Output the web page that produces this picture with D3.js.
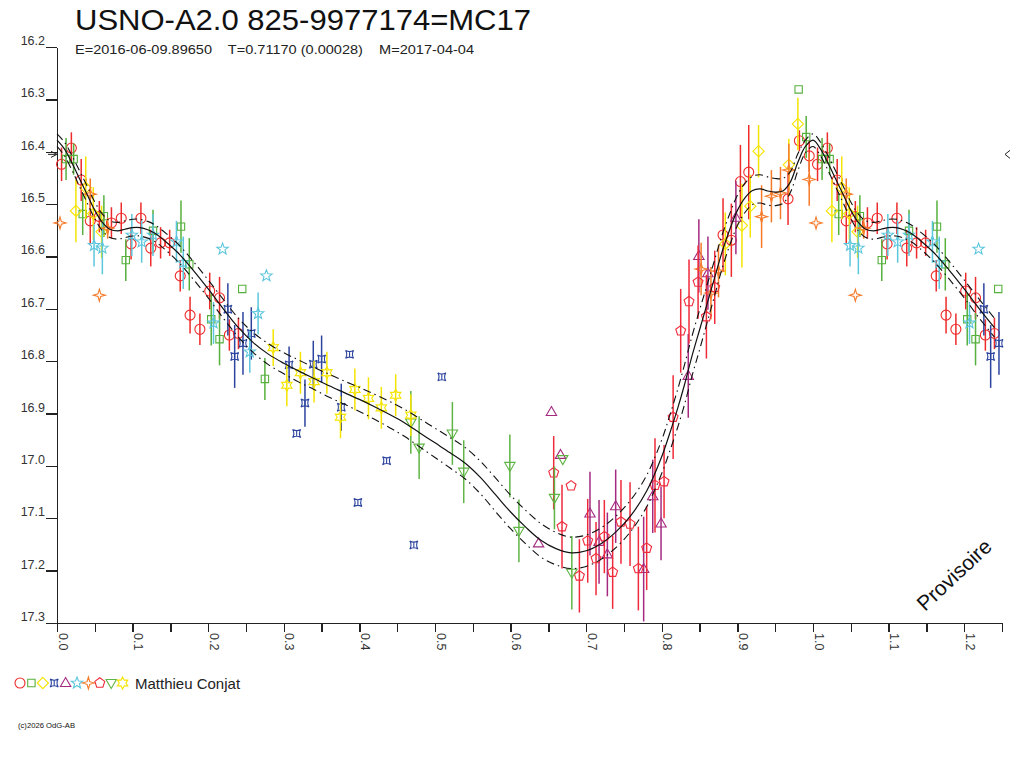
<!DOCTYPE html>
<html>
<head>
<meta charset="utf-8">
<script src="https://d3js.org/d3.v7.min.js"></script>
<style>
  html, body { margin: 0; padding: 0; background: #fff; }
  svg { display: block; font-family: "Liberation Sans", Arial, sans-serif; }
  .axis path, .axis line { stroke: #222; stroke-width: 1.3; shape-rendering: crispEdges; }
  .axis text { fill: #333; font-size: 12.5px; }
  .err { stroke-width: 1.5; }
  .sym { fill: none; stroke-width: 1.1; }
  .fit { fill: none; stroke: #111; }
</style>
</head>
<body>
<div id="chart"></div>
<script>
'use strict';

// ---- data: [phase, magnitude, error] (error 0 = no bar) ----
var circlesRed = [
  [0.006, 16.424, 0.032], [0.019, 16.393, 0.030], [0.032, 16.454, 0.040],
  [0.044, 16.532, 0.045], [0.056, 16.524, 0.030], [0.072, 16.536, 0.030],
  [0.085, 16.527, 0.030], [0.098, 16.576, 0.030], [0.111, 16.527, 0.030],
  [0.124, 16.584, 0.035], [0.137, 16.574, 0.030], [0.149, 16.574, 0.025],
  [0.163, 16.637, 0.030], [0.176, 16.712, 0.035], [0.189, 16.739, 0.030],
  [0.202, 16.666, 0.035], [0.215, 16.679, 0.040], [0.228, 16.750, 0.030],
  [0.240, 16.747, 0.030], [0.881, 16.559, 0.070], [0.892, 16.569, 0.070],
  [0.904, 16.457, 0.070], [0.915, 16.439, 0.090], [0.967, 16.490, 0.050],
  [0.982, 16.379, 0.020], [0.995, 16.408, 0.030]
];
var squaresGreen = [
  [0.012, 16.414, 0.040], [0.022, 16.414, 0.030], [0.034, 16.519, 0.040],
  [0.062, 16.523, 0.040], [0.091, 16.607, 0.040], [0.127, 16.551, 0.040],
  [0.164, 16.543, 0.050], [0.175, 16.615, 0.050], [0.204, 16.720, 0.050],
  [0.215, 16.758, 0.050], [0.245, 16.662, 0], [0.275, 16.834, 0.040],
  [0.981, 16.281, 0], [0.991, 16.372, 0.040]
];
var diamondsYellow = [
  [0.025, 16.513, 0.060], [0.038, 16.469, 0.060], [0.048, 16.518, 0.050],
  [0.059, 16.553, 0.050], [0.884, 16.576, 0.060], [0.906, 16.541, 0.080],
  [0.917, 16.504, 0.060], [0.928, 16.399, 0.050], [0.968, 16.425, 0.050],
  [0.980, 16.347, 0.050]
];
var crossesBlue = [
  [0.226, 16.701, 0.050], [0.235, 16.791, 0.060], [0.246, 16.766, 0.060],
  [0.257, 16.747, 0.050], [0.307, 16.807, 0.035], [0.317, 16.938, 0],
  [0.328, 16.880, 0.045], [0.339, 16.806, 0.045], [0.350, 16.796, 0.045],
  [0.376, 16.888, 0.045], [0.387, 16.787, 0], [0.398, 17.070, 0],
  [0.436, 16.990, 0], [0.472, 17.151, 0], [0.509, 16.830, 0]
];
var trianglesPurple = [
  [0.637, 17.148, 0], [0.654, 16.897, 0], [0.666, 16.979, 0],
  [0.705, 17.091, 0.080], [0.717, 17.145, 0.080], [0.728, 17.169, 0.080],
  [0.739, 17.077, 0.070], [0.776, 17.197, 0.100], [0.788, 17.058, 0.070],
  [0.799, 17.110, 0.070], [0.835, 16.828, 0.080], [0.849, 16.599, 0.070],
  [0.861, 16.632, 0.070], [0.898, 16.526, 0.070]
];
var starsCyan = [
  [0.049, 16.579, 0.040], [0.060, 16.584, 0.050], [0.099, 16.559, 0.040],
  [0.112, 16.572, 0.040], [0.127, 16.559, 0.040], [0.158, 16.572, 0.040],
  [0.167, 16.612, 0.050], [0.207, 16.727, 0.040], [0.219, 16.586, 0],
  [0.255, 16.782, 0.040], [0.266, 16.709, 0.040], [0.277, 16.637, 0]
];
var sparksOrange = [
  [0.004, 16.536, 0], [0.044, 16.481, 0.030], [0.056, 16.674, 0],
  [0.067, 16.546, 0.020], [0.852, 16.624, 0.050], [0.865, 16.670, 0.050],
  [0.875, 16.628, 0.050], [0.932, 16.524, 0.060], [0.945, 16.485, 0.050],
  [0.957, 16.479, 0.050], [0.968, 16.435, 0.050], [0.995, 16.453, 0.050]
];
var pentagonsRed = [
  [0.657, 17.013, 0.070], [0.668, 17.116, 0.080], [0.680, 17.038, 0],
  [0.691, 17.210, 0.070], [0.702, 17.143, 0.080], [0.713, 17.177, 0.070],
  [0.724, 17.135, 0.070], [0.735, 17.203, 0.070], [0.746, 17.107, 0.080],
  [0.758, 17.111, 0.080], [0.769, 17.196, 0.080], [0.780, 17.157, 0.080],
  [0.791, 17.037, 0.090], [0.803, 17.030, 0.070], [0.815, 16.907, 0.080],
  [0.825, 16.742, 0.080], [0.836, 16.686, 0.080], [0.848, 16.649, 0.070],
  [0.859, 16.715, 0.080], [0.870, 16.659, 0.070]
];
var invTrianglesGreen = [
  [0.468, 16.917, 0.060], [0.479, 16.965, 0.060], [0.523, 16.938, 0.060],
  [0.538, 17.011, 0.060], [0.599, 17.000, 0.060], [0.611, 17.124, 0.060],
  [0.658, 17.061, 0.060], [0.669, 16.987, 0], [0.681, 17.204, 0.070]
];
var hexStarsYellow = [
  [0.286, 16.774, 0.035], [0.304, 16.846, 0.040], [0.322, 16.822, 0.040],
  [0.340, 16.839, 0.040], [0.357, 16.822, 0.040], [0.375, 16.907, 0.040],
  [0.394, 16.854, 0.040], [0.412, 16.871, 0.040], [0.429, 16.889, 0.040],
  [0.448, 16.865, 0.040], [0.468, 16.903, 0.040]
];

// fitted mean light curve (one cycle) and its 1-sigma width
var fitPhase = [0.00, 0.01, 0.02, 0.03, 0.04, 0.05, 0.06, 0.07, 0.08, 0.09,
  0.10, 0.11, 0.12, 0.13, 0.14, 0.16, 0.18, 0.20, 0.22, 0.24, 0.26, 0.28,
  0.30, 0.32, 0.34, 0.36, 0.38, 0.40, 0.42, 0.44, 0.46, 0.48, 0.50, 0.52,
  0.54, 0.56, 0.58, 0.60, 0.62, 0.64, 0.66, 0.68, 0.70, 0.72, 0.74, 0.76,
  0.78, 0.80, 0.81, 0.82, 0.83, 0.84, 0.85, 0.86, 0.87, 0.88, 0.89, 0.90,
  0.91, 0.92, 0.93, 0.94, 0.95, 0.96, 0.97, 0.98, 0.99, 1.00];
var fitMag = [16.378, 16.395, 16.422, 16.452, 16.482, 16.512, 16.535, 16.548,
  16.551, 16.548, 16.545, 16.545, 16.549, 16.556, 16.567, 16.593, 16.626,
  16.662, 16.700, 16.736, 16.765, 16.787, 16.804, 16.819, 16.833, 16.847,
  16.860, 16.873, 16.887, 16.902, 16.918, 16.937, 16.956, 16.975, 16.995,
  17.022, 17.055, 17.088, 17.117, 17.142, 17.158, 17.166, 17.162, 17.148,
  17.125, 17.093, 17.048, 16.982, 16.940, 16.895, 16.845, 16.790, 16.740,
  16.690, 16.640, 16.590, 16.548, 16.512, 16.488, 16.474, 16.471, 16.475,
  16.477, 16.475, 16.458, 16.420, 16.390, 16.378];
var fitSigma = [0.012, 0.013, 0.014, 0.015, 0.016, 0.016, 0.016, 0.016,
  0.016, 0.016, 0.016, 0.016, 0.016, 0.016, 0.016, 0.017, 0.017, 0.017,
  0.018, 0.018, 0.019, 0.020, 0.020, 0.021, 0.021, 0.022, 0.022, 0.023,
  0.024, 0.025, 0.026, 0.027, 0.028, 0.029, 0.030, 0.031, 0.032, 0.032,
  0.032, 0.032, 0.031, 0.030, 0.030, 0.030, 0.030, 0.030, 0.030, 0.032,
  0.034, 0.036, 0.038, 0.038, 0.038, 0.036, 0.034, 0.032, 0.030, 0.029,
  0.028, 0.027, 0.027, 0.027, 0.026, 0.024, 0.020, 0.016, 0.012, 0.012];

var xTicks = d3.range(0, 1.2501, 0.05);
var yTicks = d3.range(16.2, 17.3001, 0.1);
var markerMag = 16.405;

var title = 'USNO-A2.0 825-9977174=MC17';
var subtitle = 'E=2016-06-09.89650    T=0.71170 (0.00028)    M=2017-04-04';
var observer = 'Matthieu Conjat';
var stamp = 'Provisoire';
var credit = '(c)2026 OdG-AB';

var series = [
  { shape: 'circle', color: '#ee2a2a', data: circlesRed },
  { shape: 'square', color: '#55b03c', data: squaresGreen },
  { shape: 'diamond', color: '#f5e400', data: diamondsYellow },
  { shape: 'cross', color: '#2c449e', data: crossesBlue },
  { shape: 'triangle', color: '#a42a80', data: trianglesPurple },
  { shape: 'star5', color: '#5cc6dc', data: starsCyan },
  { shape: 'star4', color: '#f57a2a', data: sparksOrange },
  { shape: 'pentagon', color: '#f02a3a', data: pentagonsRed },
  { shape: 'invtriangle', color: '#5eb444', data: invTrianglesGreen },
  { shape: 'star6', color: '#f5e400', data: hexStarsYellow }
];

// ---- layout ----
var WIDTH = 1024,
    HEIGHT = 768,
    PLOT_LEFT = 57,
    PLOT_RIGHT = 1002,
    PLOT_TOP = 47,
    PLOT_BOTTOM = 623;

var x = d3.scaleLinear().domain([0, 1.25]).range([PLOT_LEFT, PLOT_RIGHT]);
var y = d3.scaleLinear().domain([16.2, 17.3]).range([PLOT_TOP, PLOT_BOTTOM]);

// repeat the first quarter cycle after phase 1
var wrap = function (rows) {
  var out = rows.slice();
  rows.forEach(function (r) {
    if (r[0] > 0 && r[0] <= 0.25) {
      out.push([r[0] + 1].concat(r.slice(1)));
    }
  });
  return out;
};

// regular polygon (ri = 0) or star (ri > 0) centred on 0,0
var polyPath = function (n, ro, ri, start) {
  var k = ri ? 2 * n : n,
      pts = [],
      i, a, r;
  for (i = 0; i < k; i++) {
    a = start + i * 2 * Math.PI / k;
    r = (ri && i % 2) ? ri : ro;
    pts.push([r * Math.cos(a), r * Math.sin(a)]);
  }
  return 'M' + pts.map(function (p) {
    return p[0].toFixed(2) + ',' + p[1].toFixed(2);
  }).join('L') + 'Z';
};

var UP = -Math.PI / 2;
var SHAPES = {
  circle: 'M5,0A5,5 0 1,1 -5,0A5,5 0 1,1 5,0Z',
  square: polyPath(4, 5.2, 0, -Math.PI / 4),
  diamond: polyPath(4, 5.6, 0, UP),
  cross: 'M-4,-4Q0,-1.6 4,-4Q1.6,0 4,4Q0,1.6 -4,4Q-1.6,0 -4,-4ZM0,-3V3',
  triangle: 'M0,-5.5L5.2,3.5L-5.2,3.5Z',
  star5: polyPath(5, 6, 2.5, UP),
  star4: polyPath(4, 6, 1.9, UP),
  pentagon: polyPath(5, 5.2, 0, UP),
  invtriangle: 'M0,5.5L5.2,-3.5L-5.2,-3.5Z',
  star6: polyPath(6, 6, 3.3, UP)
};

var svg = d3.select('#chart').append('svg')
    .attr('width', WIDTH)
    .attr('height', HEIGHT)
    .attr('viewBox', '0 0 ' + WIDTH + ' ' + HEIGHT);

// titles
svg.append('text')
    .attr('x', 75).attr('y', 30)
    .attr('font-size', 30)
    .attr('textLength', 456).attr('lengthAdjust', 'spacingAndGlyphs')
    .attr('fill', '#111')
    .text(title);
svg.append('text')
    .attr('x', 75).attr('y', 54)
    .attr('font-size', 13.5)
    .attr('textLength', 399).attr('lengthAdjust', 'spacingAndGlyphs')
    .attr('fill', '#222')
    .style('white-space', 'pre')
    .attr('xml:space', 'preserve')
    .text(subtitle);

// axes
var xAxis = svg.append('g')
    .attr('class', 'axis')
    .attr('transform', 'translate(0,' + PLOT_BOTTOM + ')')
    .call(d3.axisBottom(x).tickValues(xTicks).tickSize(9).tickSizeOuter(0)
      .tickFormat(function (d) {
        var t = Math.round(d * 100);
        return t % 10 === 0 ? d3.format('.1f')(d) : '';
      }));
xAxis.selectAll('text')
    .attr('transform', 'rotate(90)')
    .attr('x', 10).attr('y', -1).attr('dy', 0)
    .attr('text-anchor', 'start')
    .attr('font-size', 14);

var yAxis = svg.append('g')
    .attr('class', 'axis')
    .attr('transform', 'translate(' + PLOT_LEFT + ',0)')
    .call(d3.axisLeft(y).tickValues(yTicks).tickSize(11).tickSizeOuter(0)
      .tickFormat(d3.format('.1f')));
yAxis.selectAll('text')
    .attr('x', -12).attr('dy', '-0.2em')
    .attr('font-size', 13);

// error bars and symbols
var plot = svg.append('g').attr('class', 'plot-area');

series.forEach(function (s) {
  var rows = wrap(s.data);
  var g = plot.append('g');
  g.selectAll('line')
      .data(rows.filter(function (r) { return r[2] > 0; }))
      .enter().append('line')
      .attr('class', 'err')
      .attr('stroke', s.color)
      .attr('x1', function (r) { return x(r[0]); })
      .attr('x2', function (r) { return x(r[0]); })
      .attr('y1', function (r) { return y(r[1] - r[2]); })
      .attr('y2', function (r) { return y(r[1] + r[2]); });
  g.selectAll('path')
      .data(rows)
      .enter().append('path')
      .attr('class', 'sym')
      .attr('stroke', s.color)
      .attr('d', SHAPES[s.shape])
      .attr('transform', function (r) {
        return 'translate(' + x(r[0]) + ',' + y(r[1]) + ')';
      });
});

// fitted curve with sigma envelope
var fit = fitPhase.map(function (p, i) { return [p, fitMag[i], fitSigma[i]]; });
fit = wrap(fit).filter(function (r) { return r[0] <= 1.25; })
    .sort(function (a, b) { return a[0] - b[0]; });
fit = fit.filter(function (r, i) { return i === 0 || r[0] !== fit[i - 1][0]; });

var line = function (k) {
  return d3.line()
      .x(function (r) { return x(r[0]); })
      .y(function (r) { return y(r[1] + k * r[2]); })
      .curve(d3.curveCatmullRom);
};
plot.append('path').datum(fit).attr('class', 'fit')
    .attr('stroke-width', 1.2).attr('d', line(0));
[-1, 1].forEach(function (k) {
  plot.append('path').datum(fit).attr('class', 'fit')
      .attr('stroke-width', 1.1)
      .attr('stroke-dasharray', '8,4,1.5,4')
      .attr('d', line(k));
});

// mean magnitude markers on both edges
svg.append('path')
    .attr('fill', 'none').attr('stroke', '#222').attr('stroke-width', 1)
    .attr('d', 'M' + (PLOT_LEFT - 9) + ',' + y(markerMag) + 'H' + PLOT_LEFT +
      'M' + (PLOT_LEFT - 6) + ',' + (y(markerMag) - 3) + 'L' + PLOT_LEFT + ',' +
      y(markerMag) + 'L' + (PLOT_LEFT - 6) + ',' + (y(markerMag) + 3));
svg.append('path')
    .attr('fill', 'none').attr('stroke', '#222').attr('stroke-width', 1)
    .attr('d', 'M' + (PLOT_RIGHT + 8) + ',' + (y(markerMag) - 4) + 'L' +
      (PLOT_RIGHT + 3) + ',' + y(markerMag) + 'L' + (PLOT_RIGHT + 8) + ',' +
      (y(markerMag) + 4));

// legend
var legend = svg.append('g').attr('transform', 'translate(20,683)');
series.forEach(function (s, i) {
  legend.append('path')
      .attr('class', 'sym')
      .attr('stroke', s.color)
      .attr('d', SHAPES[s.shape])
      .attr('transform', 'translate(' + (i * 11.4) + ',0)');
});
legend.append('text')
    .attr('x', 115).attr('y', 5.5)
    .attr('font-size', 15)
    .attr('fill', '#222')
    .text(observer);

// stamp and credit
svg.append('text')
    .attr('transform', 'translate(925,612) rotate(-43)')
    .attr('font-size', 21)
    .attr('fill', '#111')
    .text(stamp);
svg.append('text')
    .attr('x', 18).attr('y', 728)
    .attr('font-size', 7)
    .attr('textLength', 57).attr('lengthAdjust', 'spacingAndGlyphs')
    .attr('fill', '#111')
    .text(credit);
</script>
</body>
</html>
